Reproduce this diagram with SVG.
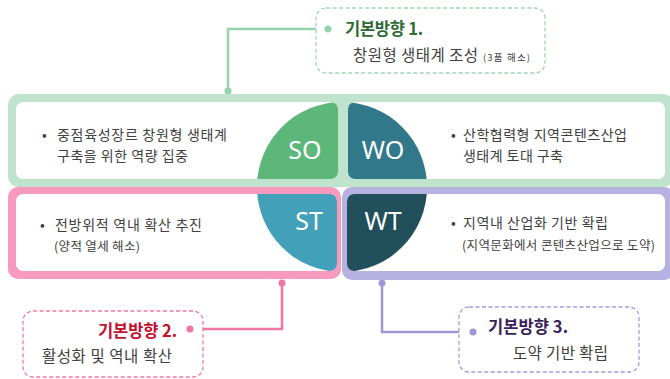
<svg xmlns="http://www.w3.org/2000/svg" width="670" height="379" viewBox="0 0 670 379">
<style>
text{font-family:"Noto Sans CJK KR","Noto Sans",sans-serif;}
.body{font-size:14px;fill:#404040;}
.sub{font-size:12.5px;fill:#404040;}
.quad{font-family:"Noto Sans","Open Sans",sans-serif;font-size:25px;fill:#ffffff;text-anchor:middle;}
.title{font-size:16.5px;font-weight:bold;}
.line2{font-size:15.5px;fill:#404040;}
.small{font-size:9.5px;fill:#404040;}
.inner{fill:#ffffff;}
</style>
<defs>
<clipPath id="cSO"><rect x="16" y="102" width="322" height="77" rx="7"/></clipPath>
<clipPath id="cWO"><rect x="348" y="102" width="317" height="77" rx="7"/></clipPath>
<clipPath id="cST"><rect x="16" y="194" width="321" height="77" rx="7"/></clipPath>
<clipPath id="cWT"><rect x="347" y="194" width="318" height="77" rx="7"/></clipPath>
</defs>
<rect width="670" height="379" fill="#ffffff"/>

<g id="connectors" fill="none" stroke-width="2.5">
<polyline points="328,29 228,29 228,91" stroke="#95d3ab"/>
<circle cx="228" cy="91" r="3.5" fill="#95d3ab" stroke="none"/>
<polyline points="190,329 282,329 282,283" stroke="#ef76a2"/>
<circle cx="282" cy="283" r="3.5" fill="#ef76a2" stroke="none"/>
<polyline points="473,332 382,332 382,283" stroke="#a196d8"/>
<circle cx="382" cy="283" r="3.5" fill="#a196d8" stroke="none"/>
</g>

<g id="band-top">
<rect x="8" y="94" width="666" height="93" rx="11" fill="#bfe3cd"/>
</g>

<g id="SO">
<rect class="inner" x="16" y="102" width="322" height="77" rx="7"/>
<circle cx="342" cy="187" r="85" fill="#5db67a" clip-path="url(#cSO)"/>
<text class="quad" x="305" y="159">SO</text>
<text class="body" x="42" y="140">•</text>
<text class="body" x="57" y="140" textLength="170" lengthAdjust="spacing">중점육성장르 창원형 생태계</text>
<text class="body" x="57" y="161" textLength="131" lengthAdjust="spacing">구축을 위한 역량 집중</text>
</g>

<g id="WO">
<rect class="inner" x="348" y="102" width="317" height="77" rx="7"/>
<circle cx="342" cy="187" r="85" fill="#30788a" clip-path="url(#cWO)"/>
<text class="quad" x="383" y="159">WO</text>
<text class="body" x="451" y="140">•</text>
<text class="body" x="463" y="140" textLength="164" lengthAdjust="spacing">산학협력형 지역콘텐츠산업</text>
<text class="body" x="463" y="161" textLength="100" lengthAdjust="spacing">생태계 토대 구축</text>
</g>

<g id="ST">
<rect x="8" y="187" width="333" height="92" rx="10" fill="#f79abd"/>
<rect class="inner" x="16" y="194" width="321" height="77" rx="7"/>
<circle cx="342" cy="187" r="85" fill="#42a0b9" clip-path="url(#cST)"/>
<text class="quad" x="309" y="230">ST</text>
<text class="body" x="40" y="230">•</text>
<text class="body" x="55" y="230" textLength="147" lengthAdjust="spacing">전방위적 역내 확산 추진</text>
<text class="sub" x="54" y="251" textLength="86" lengthAdjust="spacing">(양적 열세 해소)</text>
</g>

<g id="WT">
<rect x="342" y="187" width="332" height="93" rx="10" fill="#b6b1e0"/>
<rect class="inner" x="347" y="194" width="318" height="77" rx="7"/>
<circle cx="342" cy="187" r="85" fill="#224f5c" clip-path="url(#cWT)"/>
<text class="quad" x="383" y="230">WT</text>
<text class="body" x="451" y="228">•</text>
<text class="body" x="463" y="228" textLength="145" lengthAdjust="spacing">지역내 산업화 기반 확립</text>
<text class="sub" x="462" y="250" textLength="193" lengthAdjust="spacing">(지역문화에서 콘텐츠산업으로 도약)</text>
</g>

<g id="callout1">
<rect x="316" y="8" width="229" height="65" rx="10" fill="#ffffff" stroke="#9fd6b2" stroke-width="1.3" stroke-dasharray="4,2.5"/>
<circle cx="328" cy="29" r="3.5" fill="#95d3ab"/>
<text class="title" x="345" y="35" fill="#2f6a34" textLength="78" lengthAdjust="spacing">기본방향 1.</text>
<text class="line2" x="353" y="61" textLength="125" lengthAdjust="spacing">창원형 생태계 조성</text>
<text class="small" x="483" y="61" textLength="47" lengthAdjust="spacing">(3품 해소)</text>
</g>

<g id="callout2">
<rect x="23" y="311" width="180" height="66" rx="10" fill="#ffffff" stroke="#ef7aa6" stroke-width="1.3" stroke-dasharray="4,2.5"/>
<circle cx="190" cy="329" r="3.5" fill="#ef76a2"/>
<text class="title" x="98" y="337" fill="#c4102c" textLength="79" lengthAdjust="spacing">기본방향 2.</text>
<text class="line2" x="42" y="362" textLength="130" lengthAdjust="spacing">활성화 및 역내 확산</text>
</g>

<g id="callout3">
<rect x="459" y="307" width="180" height="65" rx="10" fill="#ffffff" stroke="#a59bdc" stroke-width="1.3" stroke-dasharray="4,2.5"/>
<circle cx="473" cy="332" r="3.5" fill="#a196d8"/>
<text class="title" x="488" y="333" fill="#3a1e5a" textLength="80" lengthAdjust="spacing">기본방향 3.</text>
<text class="line2" x="513" y="359" textLength="95" lengthAdjust="spacing">도약 기반 확립</text>
</g>
</svg>
